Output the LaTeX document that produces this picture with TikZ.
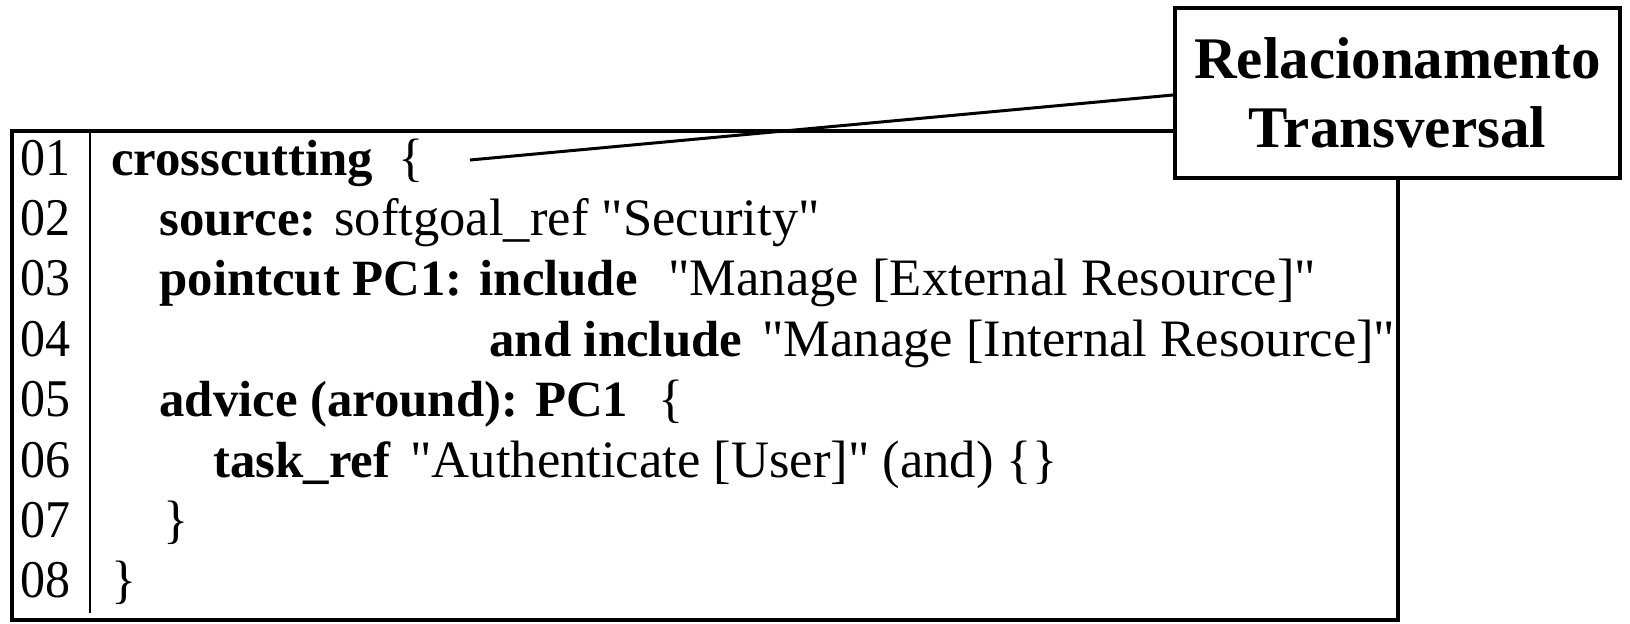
\documentclass[tikz,border=0pt]{standalone}
\usepackage{fontspec}
\setmainfont{Liberation Serif}[Ligatures=TeXOff]
\newcommand\codesize{\fontsize{26.3}{32}\selectfont}
\newcommand\kw[1]{{\fontsize{25.4}{30}\selectfont\bfseries #1}}
\newcommand\tallbox[1]{\scalebox{1}[1.06]{#1}}
\tikzset{
  code/.style={anchor=base west, inner sep=0pt, font=\codesize},
  lineno/.style={anchor=base west, inner sep=0pt, font=\fontsize{25}{30}\selectfont},
  frame/.style={draw=black, line width=1.8pt},
  callout/.style={draw=black, line width=2pt, fill=white},
}
\begin{document}
\begin{tikzpicture}[x=0.5pt, y=-0.5pt]
\useasboundingbox (0,0) rectangle (1630,623);
% listing frame and the gutter rule
\draw[frame] (12,131) rectangle (1398,620);
\draw[line width=1pt] (90,131) -- (90,613);
% line numbers
\foreach \n [count=\i from 0] in {01,02,03,04,05,06,07,08}
  \node[lineno] (n\n) at (20,175+60.4*\i) {\tallbox{\n}};
% code lines
\node[code] (l1)  at (111,175)   {\kw{crosscutting}};
\node[code] (l1b) at (398,175)   {\{};
\node[code] (l2)  at (159,235.4) {\kw{source:}};
\node[code] (l2b) at (334,235.4) {softgoal\_ref "Security"};
\node[code] (l3)  at (159,295.8) {\kw{pointcut PC1: include}};
\node[code] (l3b) at (668,295.8) {"Manage [External Resource]"};
\node[code] (l4)  at (489,356.2) {\kw{and include}};
\node[code] (l4b) at (762,356.2) {"Manage [Internal Resource]"};
\node[code] (l5)  at (159,416.6) {\kw{advice (around): PC1}};
\node[code] (l5b) at (658,416.6) {\{};
\node[code] (l6)  at (213,477)   {\kw{task\_ref}};
\node[code] (l6b) at (410,477)   {"Authenticate [User]" (and) \{\}};
\node[code] (l7)  at (163,537.4) {\}};
\node[code] (l8)  at (111,597.8) {\}};
% callout
\coordinate (tip) at (470,160);
\node[callout, minimum width=445*0.5pt, minimum height=170*0.5pt, inner sep=0pt,
      align=center, font=\fontsize{29.5}{35.5}\selectfont\bfseries]
  (rel) at (1397.5,93) {Relacionamento\\[-1pt]Transversal};
\draw[line width=1.5pt] (tip) -- (rel.west |- 0,95);
\end{tikzpicture}
\end{document}
